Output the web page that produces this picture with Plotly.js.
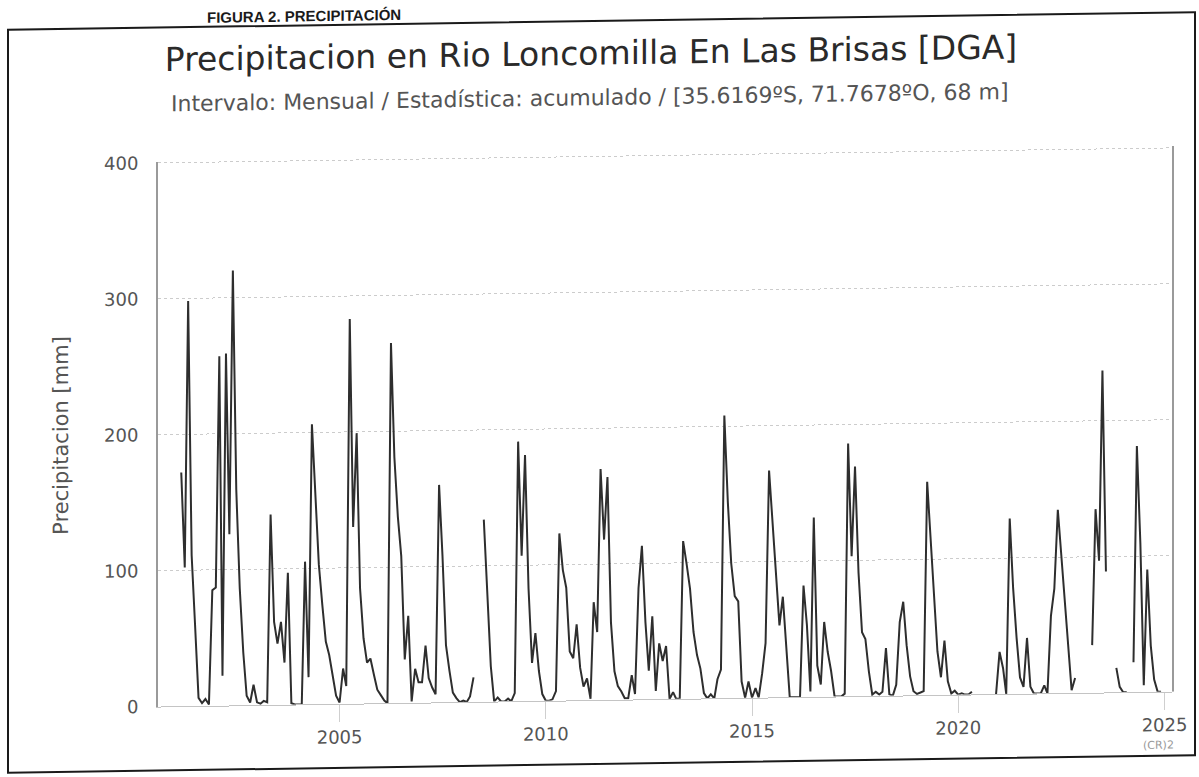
<!DOCTYPE html>
<html>
<head>
<meta charset="utf-8">
<script src="https://cdn.plot.ly/plotly-3.0.1.min.js"></script>
<style>
  html, body { margin: 0; padding: 0; background: #ffffff; overflow: hidden; }
  /* the reference is a slightly skewed scan of a printed chart */
  #chart { width: 1199px; height: 777px; transform: skewY(-0.85deg); transform-origin: 600px 390px; }
</style>
</head>
<body>
<div id="chart"></div>
<script>
// ---- Data (monthly accumulated precipitation, mm) ----
const firstYear = 2001;
const lastYear = 2024;
const precip = [
  // 2001
  null, null, 172, 102, 298, 111, 60, 6, 2, 5, 1, 85,
  // 2002
  87, 257, 22, 259, 126, 320, 159, 86, 39, 7, 2, 15,
  // 2003
  2, 1, 3, 2, 140, 61, 45, 61, 31, 97, 1, 0,
  // 2004
  0, 0, 105, 20, 206, 148, 103, 73, 46, 36, 20, 6,
  // 2005
  1, 26, 13, 283, 130, 199, 85, 48, 30, 33, 21, 10,
  // 2006
  6, 2, 0, 265, 181, 137, 108, 32, 64, 1, 25, 15,
  // 2007
  15, 42, 18, 11, 6, 160, 108, 42, 23, 7, 3, 0,
  // 2008
  1, 0, 4, 18, null, null, 134, 76, 26, 0, 3, 0,
  // 2009
  0, 2, 0, 6, 191, 107, 181, 83, 28, 50, 22, 5,
  // 2010
  0, 0, 1, 7, 123, 96, 83, 36, 31, 56, 24, 10,
  // 2011
  16, 1, 72, 50, 170, 118, 164, 57, 21, 10, 6, 1,
  // 2012
  1, 18, 4, 82, 113, 57, 21, 61, 6, 41, 28, 39,
  // 2013
  0, 5, 0, 0, 116, 99, 81, 49, 32, 22, 4, 0,
  // 2014
  3, 0, 14, 21, 208, 144, 99, 75, 71, 12, 0, 12,
  // 2015
  0, 7, 0, 18, 40, 167, 128, 92, 53, 74, 36, 0,
  // 2016
  0, 0, 0, 82, 53, 4, 132, 23, 9, 55, 33, 19,
  // 2017
  0, 0, 0, 2, 186, 103, 169, 91, 47, 42, 18, 1,
  // 2018
  3, 1, 3, 35, 1, 0, 8, 54, 69, 37, 14, 3,
  // 2019
  1, 2, 3, 157, 115, 72, 32, 13, 40, 10, 1, 3,
  // 2020
  0, 1, 0, 0, 2, null, null, null, null, null, null, 0,
  // 2021
  31, 19, 0, 129, 78, 41, 12, 5, 41, 5, 0, 0,
  // 2022
  0, 6, 0, 57, 77, 135, 101, 64, 33, 2, 11, null,
  // 2023
  null, null, null, 35, 135, 97, 237, 89, null, null, 18, 4,
  // 2024
  0, 0, null, 22, 181, 109, 5, 90, 34, 9, 0, 0
];
const yTickVals = [0, 100, 200, 300, 400];
const figureCaption = 'FIGURA 2. PRECIPITACIÓN';
const titleText = 'Precipitacion en Rio Loncomilla En Las Brisas [DGA]';
const subtitleText = 'Intervalo: Mensual / Estadística: acumulado / [35.6169ºS, 71.7678ºO, 68 m]';
const yTitleText = 'Precipitacion [mm]';
const creditText = '(CR)2';

// ---- Build monthly dates ----
const dates = [];
for (let y = firstYear; y <= lastYear; y++) {
  for (let m = 1; m <= 12; m++) {
    dates.push(y + '-' + String(m).padStart(2, '0') + '-01');
  }
}

const FONT = '"DejaVu Sans", "Open Sans", sans-serif';
const PLOT_L = 158, PLOT_R = 1172, PLOT_T = 155, PLOT_B = 700;
const px2x = px => (px - PLOT_L) / (PLOT_R - PLOT_L);
const px2y = py => (PLOT_B - py) / (PLOT_B - PLOT_T);

const trace = {
  x: dates,
  y: precip,
  type: 'scatter',
  mode: 'lines',
  line: { color: '#2e2e2e', width: 2 },
  connectgaps: false,
  hoverinfo: 'x+y'
};

const layout = {
  width: 1199,
  height: 777,
  paper_bgcolor: '#ffffff',
  plot_bgcolor: '#ffffff',
  margin: { l: PLOT_L, r: 1199 - PLOT_R, t: PLOT_T, b: 777 - PLOT_B },
  showlegend: false,
  font: { family: FONT, color: '#555555', size: 18 },
  title: {
    text: titleText,
    font: { family: FONT, size: 33, color: '#2a2a2a' },
    xref: 'container', yref: 'container',
    x: 591 / 1199, xanchor: 'center',
    y: 1 - 53 / 777, yanchor: 'middle'
  },
  xaxis: {
    type: 'date',
    range: ['2000-08-07', '2025-03-08'],
    tick0: '2005-01-01',
    dtick: 'M60',
    tickformat: '%Y',
    ticks: 'outside',
    ticklen: 17,
    tickcolor: '#cfcfcf',
    tickwidth: 1,
    showgrid: false,
    zeroline: false,
    showline: true,
    linecolor: '#c4c4c4',
    linewidth: 1,
    tickfont: { family: FONT, size: 18, color: '#555555' }
  },
  yaxis: {
    range: [0, 401],
    tickvals: yTickVals,
    ticks: 'outside',
    ticklen: 14,
    tickcolor: 'rgba(0,0,0,0)',
    showgrid: true,
    gridcolor: '#cccccc',
    griddash: 'dot',
    gridwidth: 1,
    zeroline: false,
    showline: true,
    mirror: true,
    linecolor: '#9a9a9a',
    linewidth: 2,
    tickfont: { family: FONT, size: 18, color: '#555555' },
    title: {
      text: yTitleText,
      font: { family: FONT, size: 21, color: '#555555' },
      standoff: 30
    }
  },
  annotations: [
    {
      text: '<b>' + figureCaption + '</b>',
      xref: 'paper', yref: 'paper',
      x: px2x(205), y: px2y(11),
      xanchor: 'left', yanchor: 'middle',
      showarrow: false,
      font: { family: '"Liberation Sans", Arial, sans-serif', size: 15, color: '#1a1a1a' }
    },
    {
      text: subtitleText,
      xref: 'paper', yref: 'paper',
      x: px2x(590), y: px2y(97),
      xanchor: 'center', yanchor: 'middle',
      showarrow: false,
      font: { family: FONT, size: 22, color: '#555555' }
    },
    {
      text: creditText,
      xref: 'paper', yref: 'paper',
      x: px2x(1176), y: px2y(753),
      xanchor: 'right', yanchor: 'middle',
      showarrow: false,
      font: { family: FONT, size: 11, color: '#999999' }
    }
  ],
  shapes: [
    {
      type: 'rect',
      xref: 'paper', yref: 'paper',
      x0: px2x(8), x1: px2x(1195),
      y0: px2y(764), y1: px2y(21),
      line: { color: '#1a1a1a', width: 2 },
      fillcolor: 'rgba(0,0,0,0)'
    }
  ]
};

Plotly.newPlot('chart', [trace], layout, { displayModeBar: false, staticPlot: true });
</script>
</body>
</html>
